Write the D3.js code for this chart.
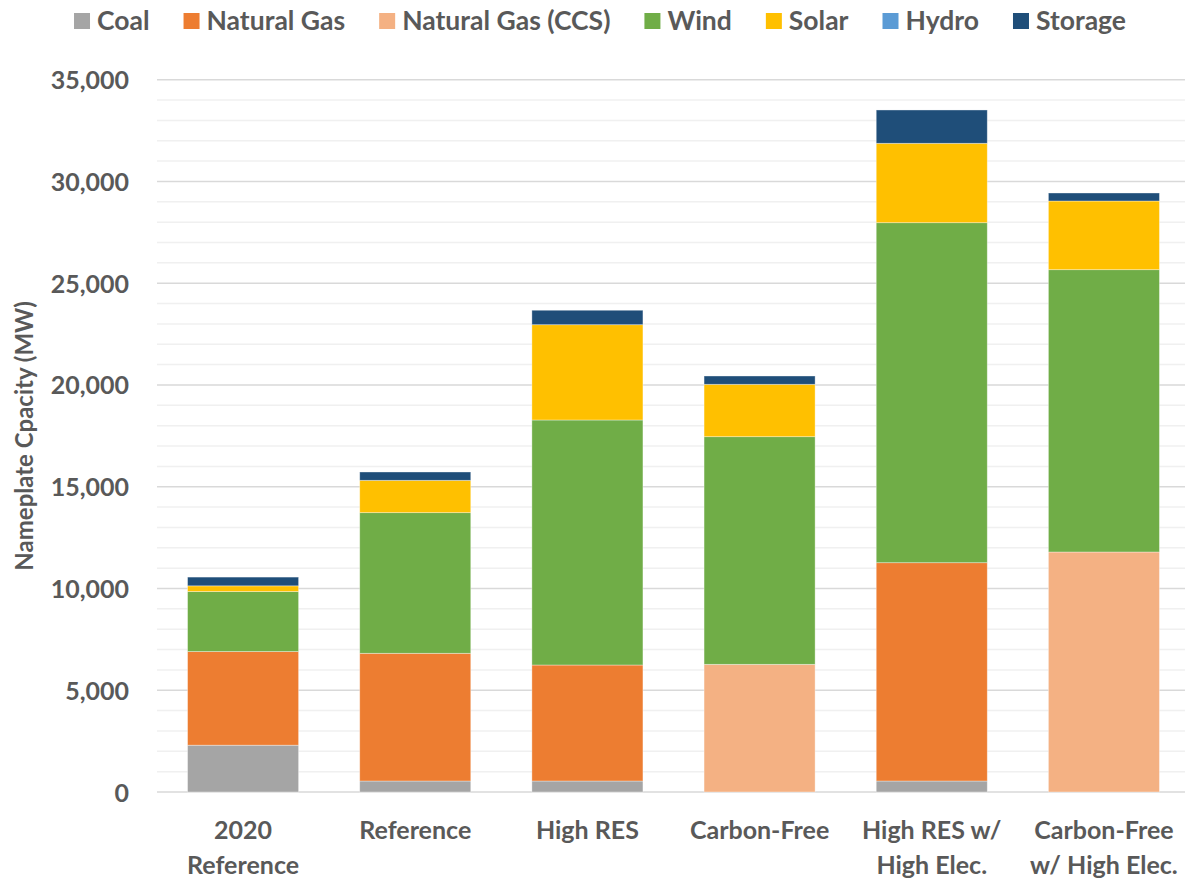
<!DOCTYPE html>
<html>
<head>
<meta charset="utf-8">
<script src="https://cdn.jsdelivr.net/npm/d3@7"></script>
<style>
  html, body { margin: 0; padding: 0; background: #fff; }
  svg { display: block; }
  text { font-family: Lato, "Open Sans", sans-serif; font-weight: 700; fill: #595959; }
</style>
</head>
<body>
<svg id="chart" width="1185" height="881"></svg>
<script>
// Scenario categories (two-line labels)
const categories = ["2020 Reference", "Reference", "High RES", "Carbon-Free", "High RES w/ High Elec.", "Carbon-Free w/ High Elec."];
const categoryLines = [["2020", "Reference"], ["Reference"], ["High RES"], ["Carbon-Free"], ["High RES w/", "High Elec."], ["Carbon-Free", "w/ High Elec."]];

// Nameplate capacity by resource (MW)
const coal       = [2300, 540, 540, 0, 540, 0];
const naturalGas = [4600, 6275, 5700, 0, 10727, 0];
const gasCCS     = [0, 0, 0, 6273, 0, 11793];
const wind       = [2950, 6911, 12039, 11186, 16707, 13872];
const solar      = [280, 1589, 4683, 2574, 3901, 3375];
const hydro      = [0, 0, 0, 0, 0, 0];
const storage    = [430, 409, 710, 408, 1637, 393];

const seriesNames = ["Coal", "Natural Gas", "Natural Gas (CCS)", "Wind", "Solar", "Hydro", "Storage"];
const seriesColors = ["#A5A5A5", "#ED7D31", "#F4B183", "#70AD47", "#FFC000", "#5B9BD5", "#1F4E79"];
const seriesValues = [coal, naturalGas, gasCCS, wind, solar, hydro, storage];

const yTicks = [0, 5000, 10000, 15000, 20000, 25000, 30000, 35000];
const yTitle = "Nameplate Cpacity (MW)";

// Build row records for the stack layout
const rows = categories.map((c, i) => {
  const r = { category: c };
  seriesNames.forEach((s, j) => r[s] = seriesValues[j][i]);
  return r;
});

const svg = d3.select("#chart");
const plot = { left: 157, right: 1190, top: 79.7, bottom: 792 };

const x = d3.scaleBand().domain(categories).range([plot.left, plot.right])
  .paddingInner(0.355).paddingOuter(0.1775);
const y = d3.scaleLinear().domain([0, 35000]).range([plot.bottom, plot.top]);

// Gridlines: minor every 1,000, major every 5,000
const minor = d3.range(1000, 35001, 1000).filter(v => v % 5000 !== 0);
svg.append("g").selectAll("line").data(minor).join("line")
  .attr("x1", plot.left).attr("x2", 1185)
  .attr("y1", d => y(d)).attr("y2", d => y(d))
  .attr("stroke", "#f0f0f0").attr("stroke-width", 1.5);
svg.append("g").selectAll("line").data(yTicks).join("line")
  .attr("x1", plot.left).attr("x2", 1185)
  .attr("y1", d => y(d)).attr("y2", d => y(d))
  .attr("stroke", "#d9d9d9").attr("stroke-width", 1.5);

// Y axis tick labels
const yAxis = d3.axisLeft(y).tickValues(yTicks).tickFormat(d3.format(",")).tickSize(0).tickPadding(0);
const yg = svg.append("g").attr("transform", `translate(${plot.left - 28},0)`).call(yAxis);
yg.select(".domain").remove();
yg.selectAll("text").attr("font-size", 25).attr("fill", "#595959")
  .style("font-family", "Lato, 'Open Sans', sans-serif").style("font-weight", 700).attr("dy", "0.36em");

// Stacked bars
const stack = d3.stack().keys(seriesNames)(rows);
svg.append("g").selectAll("g").data(stack).join("g")
  .attr("fill", (d, i) => seriesColors[i])
  .selectAll("rect").data(d => d.filter(p => p[1] - p[0] > 0)).join("rect")
  .attr("x", d => x(d.data.category))
  .attr("width", x.bandwidth())
  .attr("y", d => y(d[1]))
  .attr("height", d => y(d[0]) - y(d[1]))
  .attr("stroke", "rgba(255,255,255,0.45)").attr("stroke-width", 0.8);

// X axis category labels
const xg = svg.append("g");
categories.forEach((c, i) => {
  const t = xg.append("text")
    .attr("x", x(c) + x.bandwidth() / 2)
    .attr("y", 839)
    .attr("text-anchor", "middle")
    .attr("font-size", 25);
  categoryLines[i].forEach((line, k) => {
    t.append("tspan").attr("x", x(c) + x.bandwidth() / 2).attr("dy", k === 0 ? 0 : 35).text(line);
  });
});

// Y axis title
svg.append("text")
  .attr("transform", `translate(33,${(plot.top + plot.bottom) / 2}) rotate(-90)`)
  .attr("text-anchor", "middle")
  .attr("font-size", 24)
  .text(yTitle);

// Legend, laid out left to right and centred
const legend = svg.append("g");
let cursor = 0;
seriesNames.forEach((name, i) => {
  const g = legend.append("g");
  g.append("rect").attr("x", 0).attr("y", 13).attr("width", 16).attr("height", 16).attr("fill", seriesColors[i]);
  const t = g.append("text").attr("x", 23).attr("y", 30).attr("font-size", 26.5).text(name);
  const w = 23 + t.node().getComputedTextLength();
  g.attr("transform", `translate(${cursor},0)`);
  cursor += w + 34;
});
const totalW = cursor - 34;
legend.attr("transform", `translate(${600 - totalW / 2},0)`);
</script>
</body>
</html>
